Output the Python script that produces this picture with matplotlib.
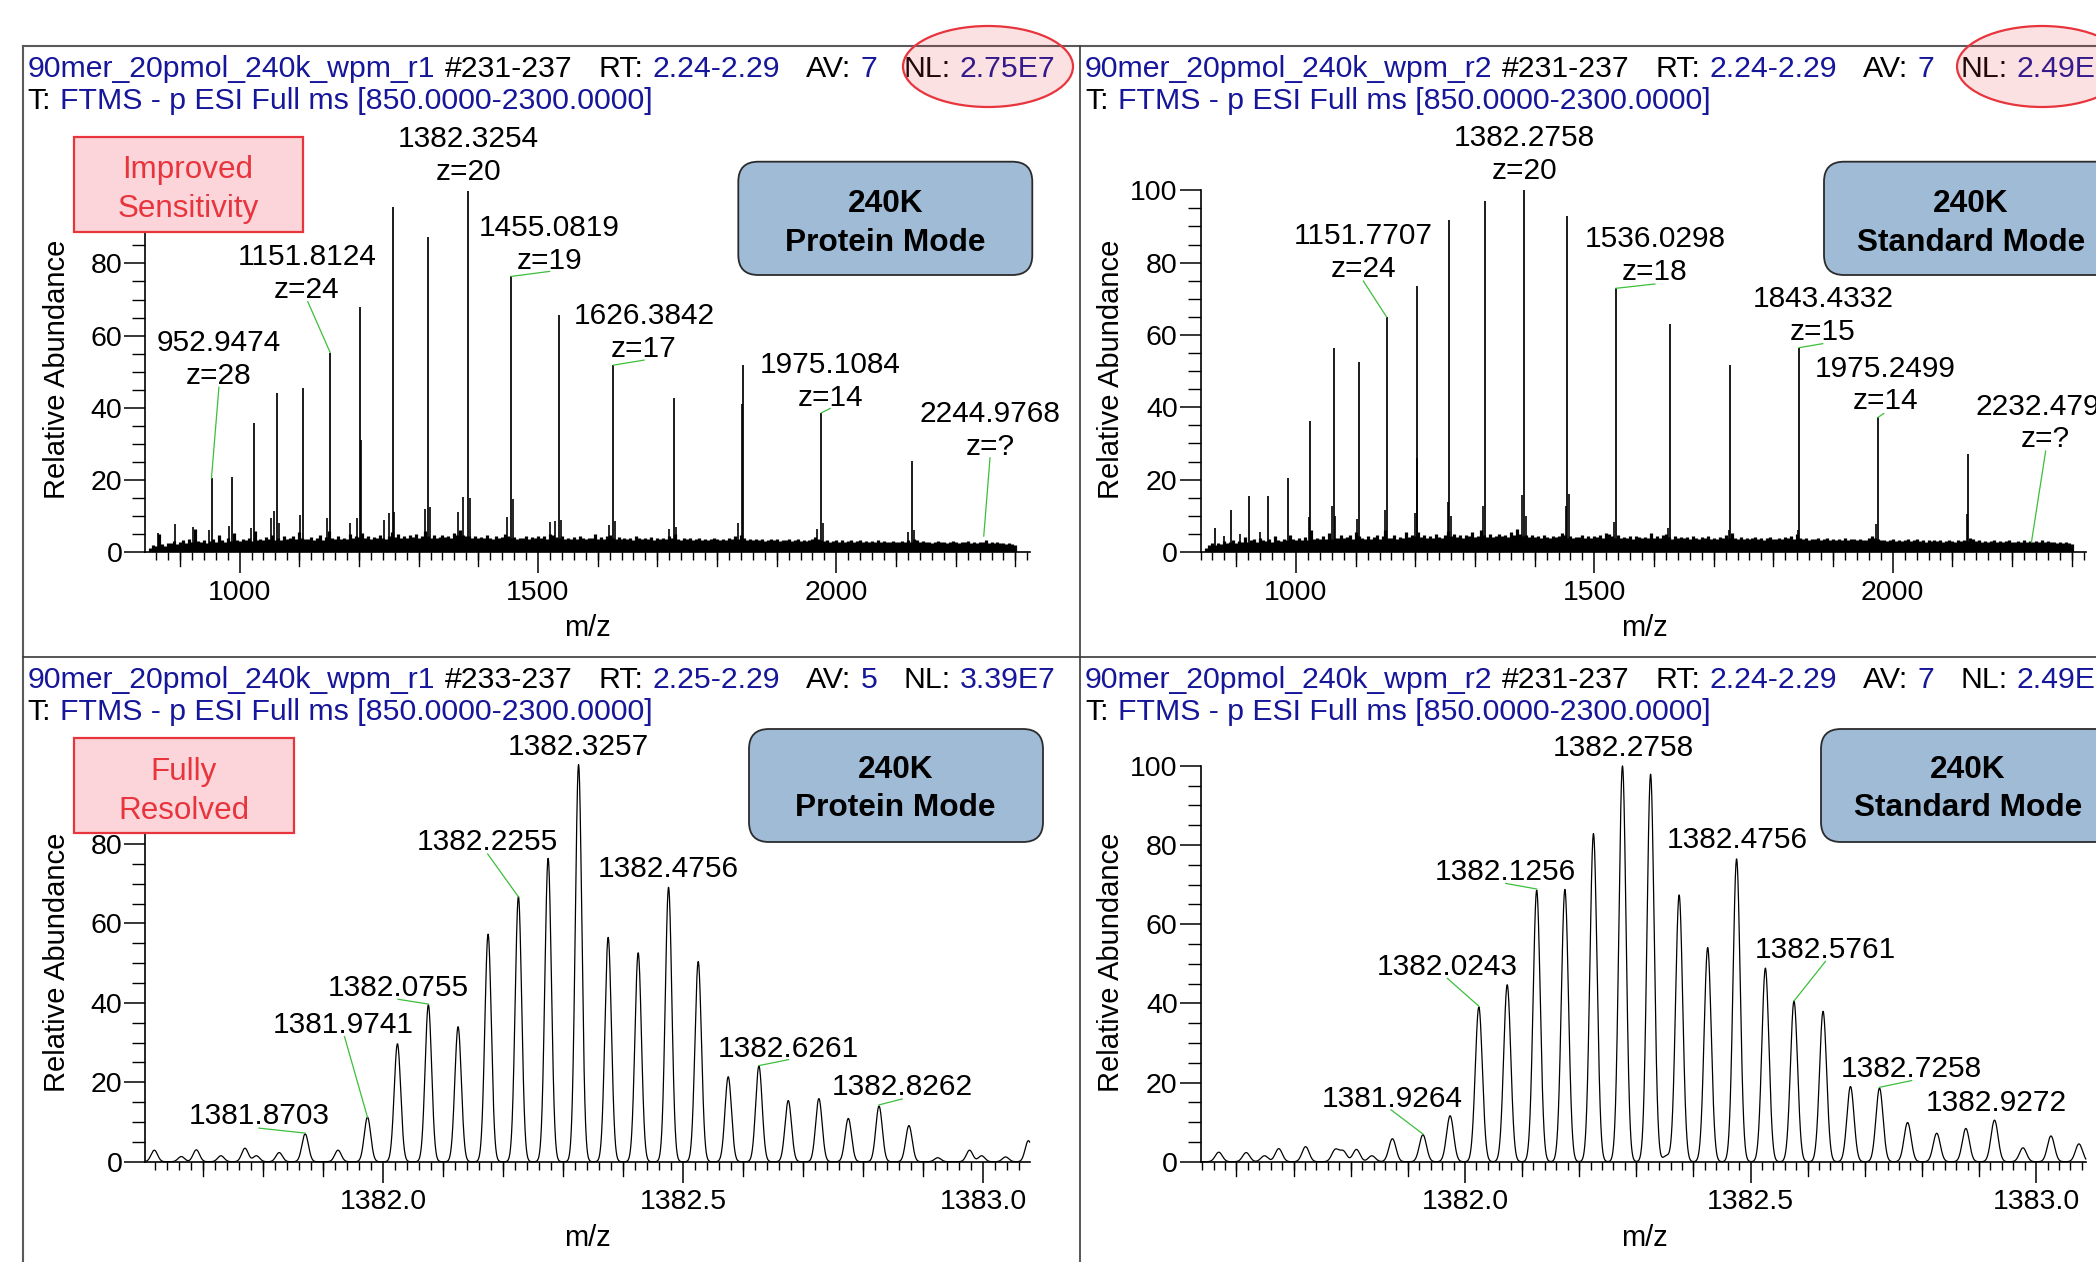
import numpy as np
import matplotlib
matplotlib.use('Agg')
import matplotlib.pyplot as plt
from matplotlib.patches import Ellipse, FancyBboxPatch, Rectangle
from matplotlib.lines import Line2D
from matplotlib.ticker import MultipleLocator, FormatStrFormatter
import matplotlib.transforms as mtransforms

plt.rcParams['font.family'] = ['Liberation Sans', 'DejaVu Sans']

# ---------------- DATA ----------------
# top-left : 240K protein mode, full range (sticks)
tl_mz = [952.9474, 987.4, 1024.0, 1063.3, 1105.9, 1151.8124, 1202.0, 1256.7, 1316.5, 1382.3254,
         1455.0819, 1535.9, 1626.3842, 1727.9, 1843.1, 1975.1084, 2126.7]
tl_ab = [20.5, 20.8, 35.8, 44.0, 45.5, 55.3, 67.8, 95.7, 87.3, 100.0,
         76.4, 65.8, 51.8, 42.7, 51.8, 38.6, 25.2]
tl_sat_mz = [863.5, 891.8, 921.5, 948.5, 982.0, 1019.0, 1052.0, 1058.0, 1066.0, 1101.0, 1146.0, 1185.0,
             1196.0, 1204.0, 1242.0, 1251.0, 1259.0, 1311.0, 1319.0, 1366.5, 1375.0, 1385.5, 1448.7,
             1458.0, 1520.0, 1528.7, 1538.5, 1619.0, 1629.0, 1720.0, 1730.5, 1836.0, 1842.3, 1968.0,
             1978.0, 2120.0, 2129.5]
tl_sat_ab = [5.4, 7.9, 6.8, 6.2, 7.3, 6.7, 9.3, 11.3, 8.0, 10.2, 9.3, 8.0,
             9.3, 31.0, 9.0, 10.9, 11.0, 12.0, 12.6, 11.0, 15.3, 15.0, 9.6,
             14.8, 8.4, 8.7, 9.0, 7.5, 8.5, 6.5, 7.0, 8.0, 41.0, 6.5,
             8.0, 5.5, 6.0]
tl_noise = [1.2, 2.0, 1.6, 5.0, 2.2, 1.8, 2.6, 2.4, 3.0, 2.2, 2.8,
            3.2, 2.6, 3.5, 2.8, 6.5, 3.0, 2.9, 3.4, 2.6, 3.1, 3.6, 2.8, 4.6, 3.3, 2.7, 3.8, 3.0, 5.2, 3.4, 3.1,
            3.6, 3.2, 4.0, 3.1, 5.8, 3.4, 3.7, 3.3, 4.2, 3.5, 4.8, 3.2, 3.9, 3.4, 4.5, 3.6, 3.8, 4.4, 3.5, 5.5,
            4.0, 3.7, 3.5, 4.2, 3.3, 3.8, 4.6, 3.4, 4.1, 5.9, 3.9, 3.6, 4.3, 3.5, 4.0, 3.7, 5.0, 3.8, 4.4, 4.1,
            5.2, 3.9, 4.5, 3.6, 4.1, 3.8, 4.7, 4.0, 3.7, 4.3, 5.6, 4.2, 4.9, 3.9, 4.4, 3.8, 4.6, 4.1, 5.1, 3.9,
            4.3, 5.8, 4.5, 4.0, 4.7, 3.9, 4.2, 4.8, 4.1, 4.4, 4.0, 5.2, 4.6, 6.1, 4.8, 4.3, 4.5, 4.0, 4.4, 3.9,
            4.2, 3.8, 4.6, 4.0, 3.7, 4.3, 3.9, 4.1, 5.0, 4.4, 3.8, 4.2, 3.6, 4.0, 3.9, 4.5, 3.7, 4.1, 3.8, 4.3,
            3.9, 4.4, 3.7, 5.1, 4.8, 4.2, 3.8, 4.5, 3.6, 4.0, 3.7, 4.1, 3.5, 4.3, 3.9, 3.6, 4.0, 3.8, 5.0, 3.7,
            4.1, 3.6, 4.4, 4.7, 3.9, 3.5, 4.2, 3.7, 4.0, 3.6, 3.9, 3.4, 4.3, 3.8, 3.5, 3.9, 3.6, 4.1, 3.4, 3.8,
            3.5, 3.9, 3.6, 4.4, 3.8, 5.0, 3.7, 3.4, 3.9, 3.5, 3.8, 3.3, 3.6, 4.0, 3.4, 3.7, 3.2, 3.6, 3.9, 3.5,
            3.3, 3.7, 3.4, 3.9, 3.6, 4.3, 3.5, 4.8, 3.8, 3.4, 3.6, 3.2, 3.5, 3.3, 3.7, 3.1, 3.4, 3.6, 3.2, 3.5,
            3.1, 3.4, 3.2, 3.6, 3.0, 3.3, 3.5, 3.1, 3.4, 3.0, 3.2, 3.7, 4.2, 3.6, 3.3, 3.0, 3.2, 2.9, 3.1, 3.3,
            2.9, 3.2, 2.8, 3.1, 3.4, 2.9, 3.0, 3.3, 2.8, 3.0, 2.7, 3.1, 2.9, 3.2, 2.8, 3.0, 2.7, 2.9, 3.1, 2.8,
            2.7, 3.0, 2.8, 3.2, 2.9, 3.6, 3.4, 2.8, 3.0, 2.7, 2.9, 2.6, 2.8, 3.0, 2.7, 2.9, 2.6, 2.8, 3.1, 2.7,
            2.6, 2.9, 2.7, 3.0, 2.6, 2.8, 2.5, 2.9, 2.7, 3.2, 2.6, 2.8, 2.5, 2.7, 2.4, 2.6, 2.3, 2.5, 2.2, 2.0]

# top-right : 240K standard mode, full range (sticks)
tr_mz = [863.9, 891.8, 921.5, 953.3, 987.3, 1023.9, 1063.3, 1105.8, 1151.7707, 1202.0, 1256.6, 1316.5,
         1382.2758, 1455.0, 1536.0298, 1626.2, 1727.8, 1843.4332, 1975.2499, 2126.6]
tr_ab = [6.6, 11.7, 15.6, 15.5, 20.4, 36.3, 56.3, 52.5, 65.0, 73.6, 91.8, 97.0,
         100.0, 92.9, 72.9, 63.0, 51.7, 56.5, 37.2, 27.1]
tr_sat_mz = [880.0, 906.0, 940.0, 1021.0, 1060.5, 1066.0, 1103.0, 1149.0, 1199.5, 1203.5, 1254.0, 1259.5,
             1314.0, 1379.5, 1385.0, 1452.5, 1457.5, 1533.5, 1624.0, 1725.0, 1841.0, 1972.5, 2124.0]
tr_sat_ab = [4.5, 5.0, 5.5, 9.8, 12.6, 10.0, 9.0, 11.5, 10.9, 26.0, 13.7, 10.0,
             12.6, 15.8, 10.0, 12.6, 16.0, 8.2, 6.6, 6.0, 6.0, 7.7, 10.4]
tr_noise = [1.0, 1.8, 2.4, 1.9, 2.6, 2.2, 3.0, 2.5, 2.8, 3.4, 2.6,
            3.1, 2.7, 4.2, 2.9, 3.3, 3.6, 2.8, 3.9, 3.2, 3.0, 3.5, 2.9, 4.4, 3.4, 3.1, 3.7, 3.3, 4.8, 3.5, 3.2,
            3.8, 3.4, 4.1, 3.3, 6.0, 3.6, 3.9, 3.5, 4.4, 3.7, 5.2, 3.6, 4.0, 3.8, 4.6, 3.9, 4.2, 4.8, 3.7, 5.4,
            4.3, 3.9, 3.7, 4.5, 3.6, 4.1, 4.8, 3.7, 4.3, 6.2, 4.0, 3.8, 4.6, 3.7, 4.2, 3.9, 5.4, 4.1, 4.7, 4.3,
            5.5, 4.1, 4.7, 3.9, 4.4, 4.0, 5.0, 4.2, 3.9, 4.6, 5.8, 4.4, 5.1, 4.1, 4.6, 4.0, 4.8, 4.3, 5.4, 4.1,
            4.5, 6.0, 4.7, 4.2, 4.9, 4.1, 4.4, 5.0, 4.3, 4.6, 4.2, 5.4, 4.8, 6.3, 5.0, 4.5, 4.7, 4.2, 4.6, 4.1,
            4.4, 4.0, 4.8, 4.2, 3.9, 4.5, 4.1, 4.3, 5.3, 4.6, 4.0, 4.4, 3.8, 4.2, 4.1, 4.7, 3.9, 4.3, 4.0, 4.5,
            4.1, 4.6, 3.9, 5.3, 5.0, 4.4, 4.0, 4.7, 3.8, 4.2, 3.9, 4.3, 3.7, 4.5, 4.1, 3.8, 4.2, 4.0, 5.2, 3.9,
            4.3, 3.8, 4.6, 4.9, 4.1, 3.7, 4.4, 3.9, 4.2, 3.8, 4.1, 3.6, 4.5, 4.0, 3.7, 4.1, 3.8, 4.3, 3.6, 4.0,
            3.7, 4.1, 3.8, 4.6, 4.0, 5.2, 3.9, 3.6, 4.1, 3.7, 4.0, 3.5, 3.8, 4.2, 3.6, 3.9, 3.4, 3.8, 4.1, 3.7,
            3.5, 3.9, 3.6, 4.1, 3.8, 4.5, 3.7, 5.0, 4.0, 3.6, 3.8, 3.4, 3.7, 3.5, 3.9, 3.3, 3.6, 3.8, 3.4, 3.7,
            3.3, 3.6, 3.4, 3.8, 3.2, 3.5, 3.7, 3.3, 3.6, 3.2, 3.4, 3.9, 4.4, 3.8, 3.5, 3.2, 3.4, 3.1, 3.3, 3.5,
            3.1, 3.4, 3.0, 3.3, 3.6, 3.1, 3.2, 3.5, 3.0, 3.2, 2.9, 3.3, 3.1, 3.4, 3.0, 3.2, 2.9, 3.1, 3.3, 3.0,
            2.9, 3.2, 3.0, 3.4, 3.1, 3.8, 3.6, 3.0, 3.2, 2.9, 3.1, 2.8, 3.0, 3.2, 2.9, 3.1, 2.8, 3.0, 3.3, 2.9,
            2.8, 3.1, 2.9, 3.2, 2.8, 3.0, 2.7, 3.1, 2.9, 3.4, 2.8, 3.0, 2.7, 2.9, 2.6, 2.8, 2.5, 2.7, 2.4, 2.1]

# bottom-left : zoom of z=20 isotope envelope, protein mode
bl_mz = [1381.619, 1381.664, 1381.689, 1381.730, 1381.770, 1381.789, 1381.827, 1381.8703, 1381.925,
         1381.9741, 1382.024, 1382.0755, 1382.125, 1382.175, 1382.2255, 1382.275, 1382.3257, 1382.375,
         1382.425, 1382.4756, 1382.525, 1382.575, 1382.6261, 1382.675, 1382.726, 1382.775, 1382.8262,
         1382.876, 1382.924, 1382.977, 1382.997, 1383.037, 1383.075]
bl_ab = [2.9, 1.3, 3.0, 1.5, 3.4, 1.5, 2.3, 7.0, 2.9,
         11.2, 29.7, 39.5, 34.0, 57.3, 66.8, 76.4, 100.0, 56.5,
         52.6, 69.1, 50.4, 21.4, 24.1, 15.4, 15.9, 10.9, 14.0,
         9.1, 1.0, 2.9, 1.5, 1.2, 5.3]

# bottom-right : zoom of z=20 isotope envelope, standard mode
br_mz = [1381.569, 1381.617, 1381.649, 1381.674, 1381.721, 1381.773, 1381.787, 1381.810, 1381.837,
         1381.873, 1381.9264, 1381.974, 1382.0243, 1382.074, 1382.1256, 1382.175, 1382.225, 1382.2758,
         1382.325, 1382.353, 1382.375, 1382.425, 1382.4756, 1382.526, 1382.5761, 1382.627, 1382.675,
         1382.7258, 1382.775, 1382.826, 1382.877, 1382.9272, 1382.977, 1383.026, 1383.075]
br_ab = [2.4, 2.3, 1.5, 3.3, 3.8, 3.0, 2.6, 3.1, 1.5,
         5.8, 6.8, 11.6, 39.1, 44.7, 68.6, 68.8, 82.9, 100.0,
         97.9, 1.5, 67.4, 54.1, 76.5, 48.9, 40.6, 38.0, 19.0,
         18.6, 9.9, 7.2, 8.4, 10.5, 3.5, 6.5, 4.5]

# peak annotations: text, label centre (x, y), leader (x0, y0, x1, y1) or None
tl_labels = ["952.9474\nz=28", "1151.8124\nz=24", "1382.3254\nz=20", "1455.0819\nz=19",
             "1626.3842\nz=17", "1975.1084\nz=14", "2244.9768\nz=?"]
tl_lab_xy = [(965.4, 53.3), (1113.0, 77.2), (1383.4, 110.0), (1519.6, 85.3), (1677.8, 60.8),
             (1989.6, 47.3), (2257.5, 33.7)]
tl_leads = [(965.4, 45.7, 952.9, 20.5), (1114.3, 69.4, 1151.8, 55.3), None, (1519.6, 77.8, 1455.1, 76.4),
            (1677.8, 53.2, 1626.4, 51.8), (1989.6, 39.8, 1975.1, 38.6), (2257.5, 26.1, 2247.0, 4.4)]

tr_labels = ["1151.7707\nz=24", "1382.2758\nz=20", "1536.0298\nz=18", "1843.4332\nz=15",
             "1975.2499\nz=14", "2232.4796\nz=?"]
tr_lab_xy = [(1112.9, 82.75), (1383.3, 110.0), (1601.5, 81.95), (1882.8, 65.3), (1988.0, 46.15),
             (2256.3, 35.65)]
tr_leads = [(1112.9, 74.9, 1151.77, 65.0), None, (1601.5, 74.1, 1536.03, 72.9), (1882.8, 57.6, 1843.43, 56.5),
            (1985.0, 38.3, 1975.25, 37.2), (2256.3, 27.9, 2232.5, 2.7)]

bl_labels = ["1381.8703", "1381.9741", "1382.0755", "1382.2255", "1382.3257", "1382.4756",
             "1382.6261", "1382.8262"]
bl_lab_xy = [(1381.7936, 11.4), (1381.9335, 34.5), (1382.0252, 43.8), (1382.1743, 80.5),
             (1382.3257, 104.5), (1382.4748, 73.6), (1382.6755, 28.4), (1382.8647, 18.8)]
bl_leads = [(1381.7936, 8.45, 1381.8703, 7.2), (1381.9358, 31.5, 1381.9741, 11.2),
            (1382.0252, 40.9, 1382.0755, 39.7), (1382.1743, 77.5, 1382.2255, 66.7), None, None,
            (1382.6755, 25.7, 1382.6261, 24.2), (1382.8647, 15.8, 1382.8262, 14.3)]

br_labels = ["1381.9264", "1382.0243", "1382.1256", "1382.2758", "1382.4756", "1382.5761",
             "1382.7258", "1382.9272"]
br_lab_xy = [(1381.8729, 15.9), (1381.9694, 49.2), (1382.0715, 73.3), (1382.277, 104.4),
             (1382.4767, 81.2), (1382.6311, 53.4), (1382.7821, 23.3), (1382.9296, 14.9)]
br_leads = [(1381.8706, 13.1, 1381.9264, 7.0), (1381.9694, 46.3, 1382.0243, 39.3),
            (1382.0715, 70.3, 1382.1256, 68.9), None, None, (1382.6311, 50.6, 1382.5761, 40.6),
            (1382.7821, 20.5, 1382.7258, 18.8), None]

# header texts
hdr_tl = ["90mer_20pmol_240k_wpm_r1", "#231-237", "RT:", "2.24-2.29", "AV:", "7", "NL:", "2.75E7"]
hdr_tr = ["90mer_20pmol_240k_wpm_r2", "#231-237", "RT:", "2.24-2.29", "AV:", "7", "NL:", "2.49E7"]
hdr_bl = ["90mer_20pmol_240k_wpm_r1", "#233-237", "RT:", "2.25-2.29", "AV:", "5", "NL:", "3.39E7"]
hdr_br = ["90mer_20pmol_240k_wpm_r2", "#231-237", "RT:", "2.24-2.29", "AV:", "7", "NL:", "2.49E7"]
scan_line = ["T:", "FTMS - p ESI Full ms [850.0000-2300.0000]"]

# ---------------- STYLE ----------------
BLUE = '#16169a'
RED = '#e8353d'
GREEN = '#3cbf3c'
W, H, DPI = 2096, 1262, 100
FS = 21.5
FS_HDR = 21.8

fig = plt.figure(figsize=(W / DPI, H / DPI), dpi=DPI)
IN = fig.dpi_scale_trans
renderer = fig.canvas.get_renderer()


def xy(x, y):
    return x / DPI, (H - y) / DPI


def add_ax(x0, x1, ybot, ytop):
    return fig.add_axes([x0 / W, (H - ybot) / H, (x1 - x0) / W, (ybot - ytop) / H])


def style(ax, xlim, major, medium, minor, fmt, ybot_px):
    ax.set_xlim(*xlim)
    ax.set_ylim(0, 100)
    ax.patch.set_alpha(0)
    for s in ['top', 'right']:
        ax.spines[s].set_visible(False)
    for s in ['left', 'bottom']:
        ax.spines[s].set_linewidth(1.2)
    ax.xaxis.set_major_locator(MultipleLocator(major))
    ax.xaxis.set_minor_locator(MultipleLocator(minor))
    ax.xaxis.set_major_formatter(FormatStrFormatter(fmt))
    ax.yaxis.set_major_locator(MultipleLocator(20))
    ax.yaxis.set_minor_locator(MultipleLocator(5))
    ax.tick_params(axis='x', which='major', length=15, width=1.1, pad=5, labelsize=20.5)
    ax.tick_params(axis='x', which='minor', length=5.8, width=1.0)
    ax.tick_params(axis='y', which='major', length=14.9, width=1.1, pad=1.5, labelsize=20.5)
    ax.tick_params(axis='y', which='minor', length=9.4, width=1.0)
    # medium ticks
    tr = mtransforms.blended_transform_factory(ax.transData, IN)
    k0 = int(np.ceil(xlim[0] / medium))
    k1 = int(np.floor(xlim[1] / medium))
    y0 = (H - ybot_px) / DPI
    for k in range(k0, k1 + 1):
        v = k * medium
        if abs(v / major - round(v / major)) < 1e-6:
            continue
        ax.add_line(Line2D([v, v], [y0, y0 - 0.14], transform=tr, color='k', lw=1.0, clip_on=False))


def annotate(ax, labels, xys, leads):
    for txt, (x, y), ld in zip(labels, xys, leads):
        ax.text(x, y, txt, ha='center', va='center', fontsize=FS, linespacing=1.22, clip_on=False)
        if ld is not None:
            ax.plot([ld[0], ld[2]], [ld[1], ld[3]], color=GREEN, lw=0.9, clip_on=False)


def header(x0, ybase, parts, colors, gaps):
    x = x0 / DPI
    sp = 0.278 * FS_HDR / 72
    for txt, col, g in zip(parts, colors, gaps):
        t = fig.text(x, (H - ybase) / DPI, txt, color=col, fontsize=FS_HDR, transform=IN,
                     ha='left', va='baseline', zorder=3)
        bb = t.get_window_extent(renderer=renderer)
        x = bb.x1 / DPI + g * sp


hdr_colors = [BLUE, 'k', 'k', BLUE, 'k', BLUE, 'k', BLUE]
hdr_gaps = [1.1, 3.1, 1.1, 3.1, 1.1, 3.1, 1.1, 0]


def panel_text(x0, ytop, parts):
    header(x0, ytop + 77.3, parts, hdr_colors, hdr_gaps)
    header(x0, ytop + 109.3, scan_line, ['k', BLUE], [1.1, 0])


def red_box(x0, y0, x1, y1, txt, tx, ty):
    r = Rectangle(xy(x0, y1), (x1 - x0) / DPI, (y1 - y0) / DPI, transform=IN,
                  facecolor='#fbd5d9', edgecolor=RED, lw=1.6, zorder=5)
    fig.add_artist(r)
    fig.text(*xy(tx, ty), txt, transform=IN, ha='center', va='center', color=RED,
             fontsize=22.6, linespacing=1.36, zorder=6)


def blue_box(x0, y0, x1, y1, txt, tx, ty):
    r = FancyBboxPatch(xy(x0, y1), (x1 - x0) / DPI, (y1 - y0) / DPI, transform=IN,
                       boxstyle='round,pad=0,rounding_size=0.2',
                       facecolor='#a0bbd6', edgecolor='#2b2b2b', lw=1.3, zorder=5)
    fig.add_artist(r)
    fig.text(*xy(tx, ty), txt, transform=IN, ha='center', va='center', color='k',
             fontsize=22.8, fontweight='bold', linespacing=1.36, zorder=6)


def ellipse(cx, cy):
    e = Ellipse(xy(cx, cy), 1.70, 0.81, transform=IN, facecolor=(0.91, 0.21, 0.24, 0.15),
                edgecolor=RED, lw=1.6, zorder=7)
    fig.add_artist(e)


# ---------------- TOP PANELS ----------------
noise_x = np.arange(850, 2301, 5)

ax_tl = add_ax(145.3, 1029.7, 552, 191.3)
style(ax_tl, (842, 2324), 500, 100, 20, '%d', 552)
ax_tl.vlines(noise_x, 0, tl_noise, color='k', lw=2.3)
ax_tl.vlines(tl_sat_mz, 0, tl_sat_ab, color='k', lw=1.2)
ax_tl.vlines(tl_mz, 0, tl_ab, color='k', lw=1.25, clip_on=False)
annotate(ax_tl, tl_labels, tl_lab_xy, tl_leads)

ax_tr = add_ax(1200.5, 2085.8, 552, 190.3)
style(ax_tr, (840, 2323.6), 500, 100, 20, '%d', 552)
ax_tr.vlines(noise_x, 0, tr_noise, color='k', lw=2.3)
ax_tr.vlines(tr_sat_mz, 0, tr_sat_ab, color='k', lw=1.2)
ax_tr.vlines(tr_mz, 0, tr_ab, color='k', lw=1.25, clip_on=False)
annotate(ax_tr, tr_labels, tr_lab_xy, tr_leads)

# ---------------- BOTTOM PANELS ----------------
ax_bl = add_ax(145.3, 1029.6, 1161.7, 764.6)
style(ax_bl, (1381.604, 1383.077), 0.5, 0.1, 0.02, '%.1f', 1161.7)
xg = np.linspace(1381.604, 1383.077, 6000)
yb = np.zeros_like(xg)
for c, h in zip(bl_mz, bl_ab):
    yb += h * np.exp(-0.5 * ((xg - c) / 0.0054) ** 2)
ax_bl.plot(xg, yb, color='k', lw=0.9, clip_on=False)
annotate(ax_bl, bl_labels, bl_lab_xy, bl_leads)

ax_br = add_ax(1200.5, 2085.8, 1161.7, 765.9)
style(ax_br, (1381.537, 1383.087), 0.5, 0.1, 0.02, '%.1f', 1161.7)
xg2 = np.linspace(1381.537, 1383.087, 6000)
yr = np.zeros_like(xg2)
for c, h in zip(br_mz, br_ab):
    yr += h * np.exp(-0.5 * ((xg2 - c) / 0.0062) ** 2)
ax_br.plot(xg2, yr, color='k', lw=0.9, clip_on=False)
annotate(ax_br, br_labels, br_lab_xy, br_leads)

# ---------------- AXIS TITLES ----------------
for (x, y) in [(57, 369), (1111, 369), (57, 962), (1111, 962)]:
    fig.text(*xy(x, y), 'Relative Abundance', transform=IN, rotation=90, ha='center',
             va='center', fontsize=21)
for (x, y) in [(587, 628), (1644, 628), (587, 1238), (1644, 1238)]:
    fig.text(*xy(x, y), 'm/z', transform=IN, ha='center', va='center', fontsize=21)

# ---------------- HEADERS ----------------
panel_text(27.7, 0, hdr_tl)
panel_text(1085, 0, hdr_tr)
panel_text(27.7, 610.5, hdr_bl)
panel_text(1085, 610.5, hdr_br)

# ---------------- FRAME LINES ----------------
def seg(x0, y0, x1, y1, c='#5a5a5a', lw=1.5):
    fig.add_artist(Line2D([x0 / DPI, x1 / DPI], [(H - y0) / DPI, (H - y1) / DPI], transform=IN,
                          color=c, lw=lw, zorder=4))

seg(23, 46, W, 46)
seg(23, 46, 23, H)
seg(1080, 46, 1080, H, c='#3a3a3a', lw=1.2)
seg(23, 656.5, W, 656.5, c='#3a3a3a', lw=1.2)

# ---------------- CALLOUT BOXES ----------------
red_box(73.7, 137.3, 302.7, 232.3, "Improved\nSensitivity", 188, 189.5)
blue_box(738.3, 161.7, 1032.3, 275, "240K\nProtein Mode", 885.3, 223.5)
blue_box(1824, 161.7, 2118, 275, "240K\nStandard Mode", 1971, 223.5)

red_box(73.7, 737.8, 294, 832.7, "Fully\nResolved", 184, 791.5)
blue_box(749, 729, 1043, 842, "240K\nProtein Mode", 895.3, 789)
blue_box(1821, 729, 2115, 842, "240K\nStandard Mode", 1968, 789)

ellipse(988, 66.5)
ellipse(2042, 66.5)

fig.savefig('out.png', dpi=DPI)
